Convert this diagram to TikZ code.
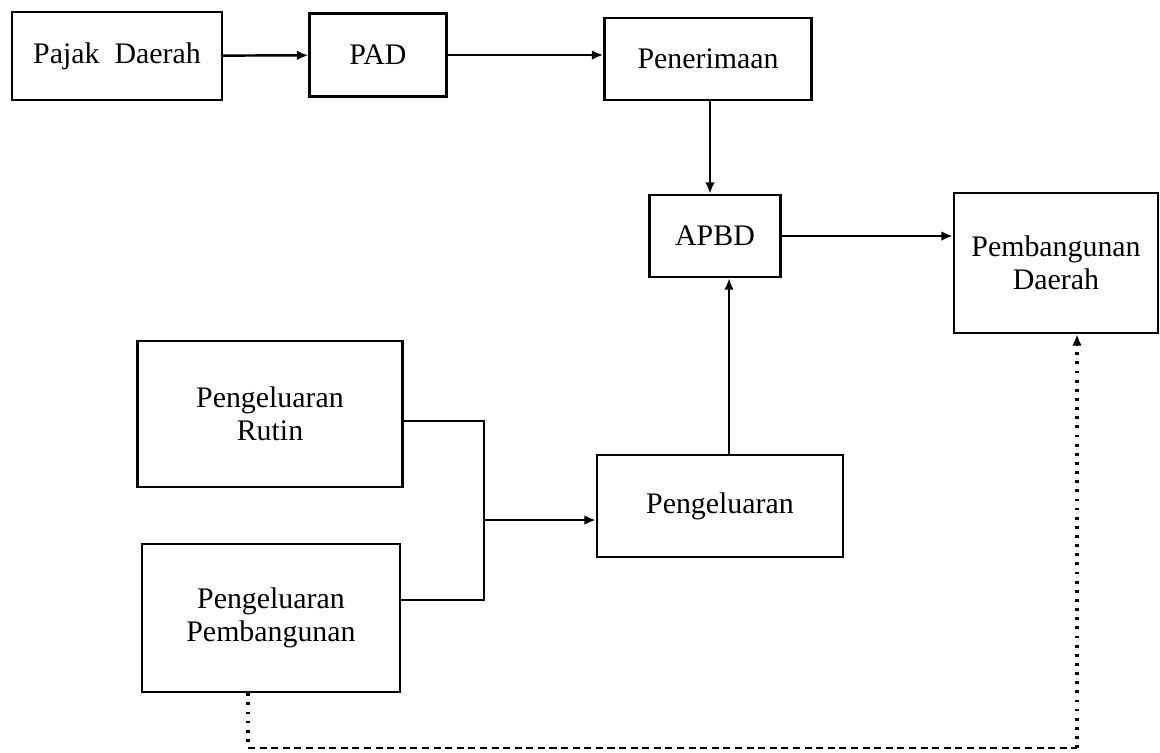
\documentclass[tikz,border=0pt]{standalone}
\usepackage{fontspec}
\setmainfont{Liberation Serif}
\usetikzlibrary{arrows.meta,calc}

\begin{document}
\begin{tikzpicture}[x=0.02cm,y=-0.02cm,
  font=\fontsize{17}{19}\selectfont,
  box/.style={draw,line width=1.4pt,align=center,inner sep=2pt},
  arr/.style={-{Latex[length=6.5pt,width=5.5pt]},line width=1.4pt},
  line/.style={line width=1.4pt},
  dotln/.style={line width=2pt,dash pattern=on 1.6pt off 3.6pt},
  dashln/.style={line width=1.6pt,dash pattern=on 4pt off 2.6pt}]
\useasboundingbox (0,0) rectangle (1160,752);
\node[box,minimum width=4.2cm,minimum height=1.76cm] (pajak) at (117,56) {Pajak\enspace Daerah};
\node[box,minimum width=2.74cm,minimum height=1.66cm] (pad) at (378,55) {PAD};
\node[box,minimum width=4.14cm,minimum height=1.64cm] (terima) at (708,59) {Penerimaan};
\node[box,minimum width=2.62cm,minimum height=1.64cm] (apbd) at (715,236) {APBD};
\node[box,minimum width=4.08cm,minimum height=2.8cm] (bangda) at (1056,263) {Pembangunan\\Daerah};
\node[box,minimum width=5.3cm,minimum height=2.92cm] (rutin) at (270,414) {Pengeluaran\\Rutin};
\node[box,minimum width=5.16cm,minimum height=2.96cm] (pemb) at (271,618) {Pengeluaran\\Pembangunan};
\node[box,minimum width=4.92cm,minimum height=2.04cm] (keluar) at (720,506) {Pengeluaran};
\draw[arr] (pajak) -- (pad);
\draw[arr] (pad.east) -- (pad.east -| terima.west);
\draw[arr] ([xshift=0.04cm]terima.south) -- ([xshift=0.04cm]terima.south |- apbd.north);
\draw[arr] (apbd.east) -- (apbd.east -| bangda.west);
\draw[arr] ([xshift=0.18cm]keluar.north) -- ([xshift=0.18cm]keluar.north |- apbd.south);
% gabungan pengeluaran
\coordinate (r) at (484,421);
\coordinate (p) at (484,600);
\coordinate (j) at (484,520);
\draw[line] (r -| rutin.east) -- (r) -- (p) -- (p -| pemb.east);
\draw[arr] (j) -- (j -| keluar.west);
% umpan balik
\coordinate (c1) at (248,748);
\coordinate (c2) at (1077,748);
\draw[dotln] (pemb.south -| c1) -- (c1);
\draw[dashln] (c1) -- (c2);
\draw[dotln] (c2) -- ($(c2 |- bangda.south)+(0,12)$);
\draw[arr] ($(c2 |- bangda.south)+(0,12)$) -- (c2 |- bangda.south);
\end{tikzpicture}
\end{document}
